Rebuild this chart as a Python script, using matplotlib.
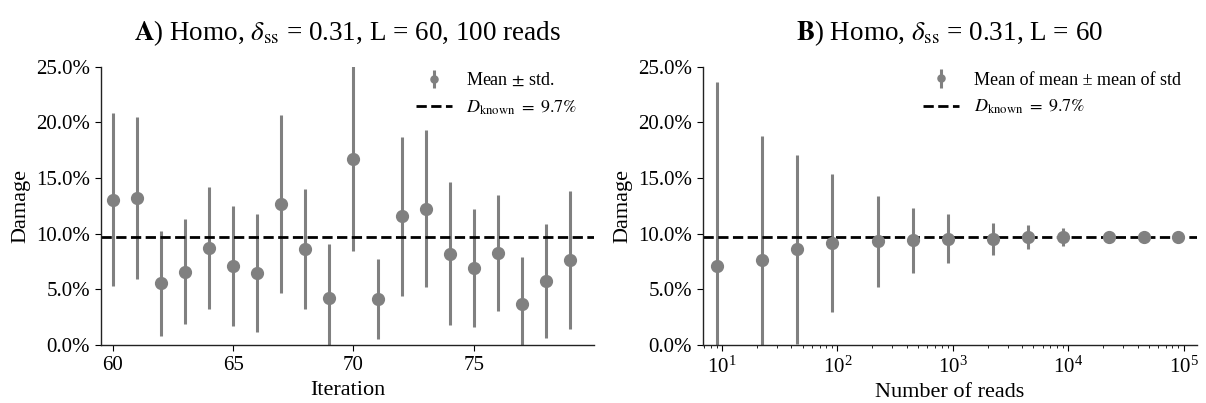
import matplotlib

matplotlib.use("Agg")
import matplotlib.pyplot as plt
from matplotlib.ticker import PercentFormatter, LogLocator, NullFormatter

# panel A: per-iteration damage estimate (100 reads each)
iterations = list(range(60, 80))
mean_a = [13.05, 13.2, 5.55, 6.6, 8.7, 7.1, 6.5, 12.7, 8.65, 4.2,
          16.75, 4.1, 11.55, 12.25, 8.2, 6.9, 8.25, 3.7, 5.75, 7.62]
std_a = [7.75, 7.3, 4.7, 4.7, 5.5, 5.35, 5.3, 8.0, 5.4, 4.9,
         8.35, 3.6, 7.15, 7.05, 6.4, 5.3, 5.2, 4.2, 5.1, 6.2]

# panel B: convergence with number of reads
reads = [9, 22, 45, 90, 225, 450, 900, 2250, 4500, 9000, 22500, 45000, 90000]
mean_b = [7.09, 7.67, 8.6, 9.13, 9.3, 9.39, 9.53, 9.53, 9.68, 9.68, 9.7, 9.7, 9.72]
std_b = [16.5, 11.1, 8.5, 6.2, 4.1, 2.95, 2.2, 1.45, 1.1, 0.82, 0.45, 0.3, 0.2]

d_known = 9.7

plt.rcParams["font.family"] = ["Liberation Serif", "DejaVu Serif"]
plt.rcParams["mathtext.fontset"] = "stix"
plt.rcParams["xtick.major.size"] = 4.5
plt.rcParams["ytick.major.size"] = 4.5
plt.rcParams["xtick.minor.size"] = 2.5

GREY = "#808080"

fig = plt.figure(figsize=(12.06, 4.03), dpi=100)
ax_a = fig.add_axes([0.0837, 0.1439, 0.4088, 0.6906])
ax_b = fig.add_axes([0.5829, 0.1439, 0.4096, 0.6906])


def draw_panel(ax, x, mean, std, label):
    eb = ax.errorbar(x, mean, yerr=std, fmt="o", color=GREY, ms=8.5,
                     elinewidth=2.2, capsize=0, label=label, zorder=2)
    eb[0].set_zorder(3)
    ref = ax.axhline(d_known, color="black", ls="--", lw=2, zorder=2.5,
                     label=r"$D_{\rm known}\ =\ 9.7\%$")
    ax.set_ylim(0, 25)
    ax.set_yticks([0, 5, 10, 15, 20, 25])
    ax.yaxis.set_major_formatter(PercentFormatter(xmax=100, decimals=1))
    ax.set_ylabel("Damage", fontsize=16, labelpad=4)
    ax.tick_params(labelsize=15)
    for side in ("top", "right"):
        ax.spines[side].set_visible(False)
    for side in ("left", "bottom"):
        ax.spines[side].set_linewidth(1.0)
        ax.spines[side].set_color("#222222")
    ax.legend(handles=[eb, ref], loc="upper right", frameon=False, fontsize=13,
              markerscale=0.6, bbox_to_anchor=(1.0, 1.04))


draw_panel(ax_a, iterations, mean_a, std_a, r"Mean $\pm$ std.")
ax_a.set_xlim(59.5, 80)
ax_a.set_xticks([60, 65, 70, 75])
ax_a.set_xlabel("Iteration", fontsize=16)
ax_a.set_title(r"$\mathbf{A}$) Homo, $\delta_{\rm ss}$ = 0.31, L = 60, 100 reads",
               fontsize=19.5, pad=19)

draw_panel(ax_b, reads, mean_b, std_b, "Mean of mean ± mean of std")
ax_b.set_xscale("log")
ax_b.set_xlim(10 ** 0.835, 10 ** 5.116)
ax_b.xaxis.set_minor_locator(LogLocator(base=10, subs=range(2, 10), numticks=20))
ax_b.xaxis.set_minor_formatter(NullFormatter())
ax_b.set_xlabel("Number of reads", fontsize=16)
ax_b.set_title(r"$\mathbf{B}$) Homo, $\delta_{\rm ss}$ = 0.31, L = 60",
               fontsize=19.5, pad=19)

fig.savefig("out.png", dpi=100)
